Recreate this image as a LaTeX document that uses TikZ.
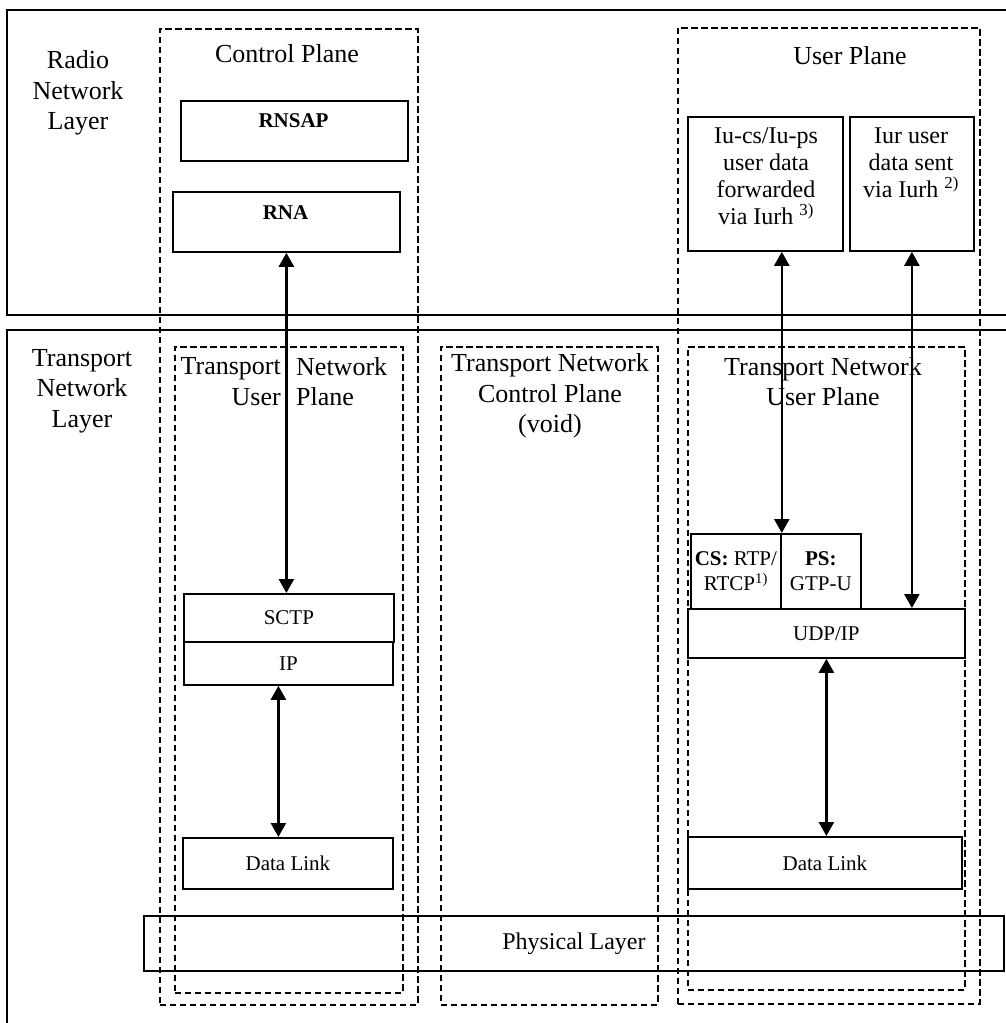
\documentclass[tikz,border=0pt]{standalone}
\usepackage{fontspec}
\setmainfont{Liberation Serif}
\usetikzlibrary{arrows.meta}

\newcommand{\fsTitle}{\fontsize{26}{30.5}\selectfont}
\newcommand{\fsBox}{\fontsize{21}{25}\selectfont}
\newcommand{\fsNote}{\fontsize{24}{27}\selectfont}

\begin{document}
\begin{tikzpicture}[x=1pt,y=-1pt,
  layerbox/.style={draw,line width=2.4pt,rectangle,inner sep=0pt,anchor=north west},
  planebox/.style={draw,line width=1.8pt,dash pattern=on 6.5pt off 3.5pt,rectangle,inner sep=0pt,anchor=north west},
  box/.style={draw,line width=1.8pt,rectangle,inner sep=0pt,anchor=north west,font=\fsBox,align=center},
  title/.style={font=\fsTitle,align=center,inner sep=0pt},
  note/.style={font=\fsNote,align=center,inner sep=0pt},
  dblarrow/.style={line width=2.4pt,{Triangle[length=14pt,width=15pt]}-{Triangle[length=14pt,width=15pt]}}]
\useasboundingbox (0,0) rectangle (1006,1023);
\clip (0,0) rectangle (1006,1023);
% layers
\node[layerbox,minimum width=1014,minimum height=305] (radio) at (6,9) {};
\node[layerbox,minimum width=1014,minimum height=720] (transport) at (6,329) {};
\node[title] (radiottl) at (78,93) {Radio\\Network\\Layer};
\node[title] (transttl) at (82,391) {Transport\\Network\\Layer};
% planes
\node[planebox,minimum width=258,minimum height=976] (cplane) at (159,28) {};
\node[planebox,minimum width=302,minimum height=976] (uplane) at (677,27) {};
\node[planebox,minimum width=228,minimum height=646] (tnul) at (174,346) {};
\node[planebox,minimum width=217,minimum height=658] (tncp) at (440,346) {};
\node[planebox,minimum width=277,minimum height=643] (tnur) at (687,346) {};
\node[title] (cplanettl) at (287,54) {Control Plane};
\node[title] (uplanettl) at (850,56) {User Plane};
\node[title,anchor=east,align=right] (tnulttl1) at (281,381.5) {Transport\\User};
\node[title,anchor=west,align=left] (tnulttl2) at (296,381.5) {Network\\Plane};
\node[title] (tncpttl) at (550,396) {Transport Network\\Control Plane\\(void)};
\node[title] (tnurttl) at (823,381.5) {Transport Network\\User Plane};
% radio network layer boxes
\node[box,minimum width=227,minimum height=60] (rnsap) at (180,100) {};
\node[font=\fsBox\bfseries] (rnsapttl) at (293.5,121) {RNSAP};
\node[box,minimum width=227,minimum height=60] (rna) at (172,191) {};
\node[font=\fsBox\bfseries] (rnattl) at (285.5,213) {RNA};
\node[box,minimum width=155,minimum height=134] (iucs) at (687,116) {};
\node[note] (iucsttl) at (766,176) {Iu-cs/Iu-ps\\user data\\forwarded\\via Iurh \textsuperscript{3)}};
\node[box,minimum width=124,minimum height=134] (iur) at (849,116) {};
\node[note] (iurttl) at (911,162.5) {Iur user\\data sent\\via Iurh \textsuperscript{2)}};
% transport network layer boxes
\node[box,minimum width=210,minimum height=48] (sctp) at (183,593) {SCTP};
\node[box,minimum width=209,minimum height=43] (ip) at (183,641) {IP};
\node[box,minimum width=210,minimum height=51] (dll) at (182,837) {Data Link};
\node[box,minimum width=90,minimum height=75] (cs) at (690,533) {\textbf{CS:} RTP/\\RTCP\textsuperscript{1)}};
\node[box,minimum width=80,minimum height=75] (ps) at (780,533) {\textbf{PS:}\\GTP-U};
\node[box,minimum width=277,minimum height=49] (udp) at (687,608) {UDP/IP};
\node[box,minimum width=274,minimum height=52] (dlr) at (687,836) {Data Link};
\node[box,minimum width=860,minimum height=55,font=\fsNote] (phy) at (143,915) {Physical Layer};
% arrows
\draw[dblarrow] (rna.south) -- (rna.south |- sctp.north);
\draw[dblarrow] ([xshift=-10pt]ip.south) -- ([xshift=-10pt]ip.south |- dll.north);
\draw[dblarrow] (cs.north east |- iucs.south) -- (cs.north east);
\draw[dblarrow] (iur.south) -- (iur.south |- udp.north);
\draw[dblarrow] (udp.south) -- (udp.south |- dlr.north);
\end{tikzpicture}
\end{document}
